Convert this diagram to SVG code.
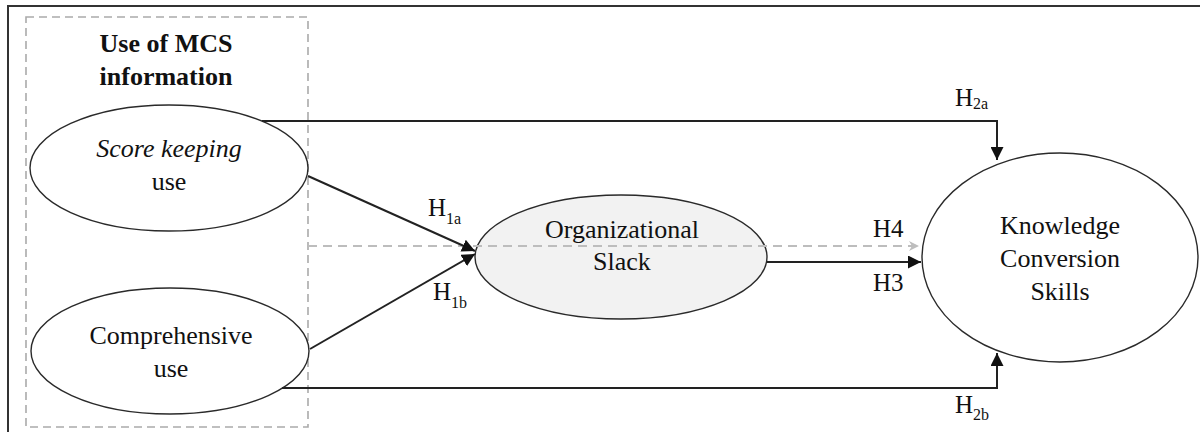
<svg xmlns="http://www.w3.org/2000/svg" width="1200" height="432" viewBox="0 0 1200 432">
  <style>
    text { font-family: "Liberation Serif", "Times New Roman", serif; font-size: 26px; fill: #111; }
    .bold { font-weight: bold; }
    .ital { font-style: italic; }
    .node { stroke: #2a2a2a; stroke-width: 1.4; fill: #fff; }
    .slack { fill: #f2f2f2; }
    .link { stroke: #222; stroke-width: 2; fill: none; }
    .dash { stroke: #bdbdbd; stroke-width: 2; fill: none; stroke-dasharray: 9 6; }
    .lbl { font-size: 25px; }
    .sub { font-size: 16px; }
  </style>
  <defs>
    <marker id="arrow" viewBox="0 0 10 10" refX="10" refY="5" markerWidth="6.5" markerHeight="6.5" markerUnits="strokeWidth" orient="auto">
      <path d="M0,0 L10,5 L0,10 z" fill="#111"/>
    </marker>
    <marker id="arrowGray" viewBox="0 0 10 10" refX="10" refY="5" markerWidth="5" markerHeight="5" markerUnits="strokeWidth" orient="auto">
      <path d="M0,0 L10,5 L0,10 L3,5 z" fill="#bdbdbd"/>
    </marker>
  </defs>

  <!-- outer frame -->
  <rect x="8" y="6" width="1200" height="440" fill="none" stroke="#333" stroke-width="2"/>

  <!-- MCS information group -->
  <g id="mcs-group">
    <rect x="26" y="17" width="282" height="410" fill="none" stroke="#aaa" stroke-width="1.6" stroke-dasharray="8 5"/>
    <text class="bold" x="166" y="52" text-anchor="middle">Use of MCS</text>
    <text class="bold" x="166" y="85" text-anchor="middle">information</text>
  </g>

  <g id="node-scorekeeping">
    <ellipse class="node" cx="169" cy="168" rx="139" ry="63"/>
    <text class="ital" x="169" y="157" text-anchor="middle">Score keeping</text>
    <text x="169" y="190" text-anchor="middle">use</text>
  </g>

  <g id="node-comprehensive">
    <ellipse class="node" cx="170" cy="351" rx="139" ry="63"/>
    <text x="171" y="344" text-anchor="middle">Comprehensive</text>
    <text x="171" y="377" text-anchor="middle">use</text>
  </g>

  <g id="node-slack">
    <ellipse class="node slack" cx="621" cy="257" rx="146" ry="62"/>
    <text x="622" y="238" text-anchor="middle">Organizational</text>
    <text x="622" y="270" text-anchor="middle">Slack</text>
  </g>

  <g id="node-knowledge">
    <ellipse class="node" cx="1060" cy="257.5" rx="138" ry="104.5"/>
    <text x="1060" y="234" text-anchor="middle">Knowledge</text>
    <text x="1060" y="267" text-anchor="middle">Conversion</text>
    <text x="1060" y="300" text-anchor="middle">Skills</text>
  </g>

  <g id="connectors">
    <!-- H4: moderating path, dashed -->
    <path class="dash" d="M308,246 L919,246" marker-end="url(#arrowGray)"/>
    <!-- H1a / H1b -->
    <path class="link" d="M308,176 L475,251" marker-end="url(#arrow)"/>
    <path class="link" d="M310,349 L475,254" marker-end="url(#arrow)"/>
    <!-- H3 -->
    <path class="link" d="M767,262 L921,262" marker-end="url(#arrow)"/>
    <!-- H2a / H2b -->
    <path class="link" d="M262,121 L997,121 L997,160" marker-end="url(#arrow)"/>
    <path class="link" d="M282,388 L997,388 L997,353" marker-end="url(#arrow)"/>
  </g>

  <g id="labels">
    <text class="lbl" x="428" y="216">H<tspan class="sub" dy="8">1a</tspan></text>
    <text class="lbl" x="433" y="300">H<tspan class="sub" dy="8">1b</tspan></text>
    <text class="lbl" x="873" y="237">H4</text>
    <text class="lbl" x="873" y="291">H3</text>
    <text class="lbl" x="955" y="106">H<tspan class="sub" dy="3">2a</tspan></text>
    <text class="lbl" x="955" y="413">H<tspan class="sub" dy="7">2b</tspan></text>
  </g>
</svg>
